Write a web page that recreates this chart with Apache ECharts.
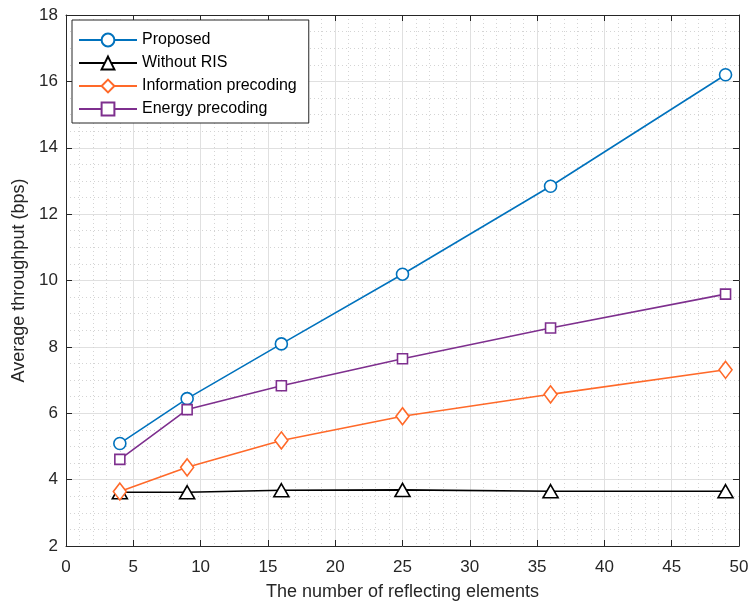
<!DOCTYPE html>
<html>
<head>
<meta charset="utf-8">
<script src="https://cdn.jsdelivr.net/npm/echarts@6/dist/echarts.min.js"></script>
<style>
  html, body { margin: 0; padding: 0; background: #fff; }
  #chart { width: 752px; height: 606px; }
</style>
</head>
<body>
<div id="chart"></div>
<script>
// number of reflecting elements
const elements = [4, 9, 16, 25, 36, 49];
// average throughput (bps)
const proposed = [5.09, 6.44, 8.09, 10.19, 12.84, 16.2];
const withoutRIS = [3.62, 3.62, 3.68, 3.69, 3.65, 3.65];
const infoPrecoding = [3.64, 4.37, 5.18, 5.91, 6.57, 7.31];
const energyPrecoding = [4.61, 6.11, 6.83, 7.64, 8.57, 9.59];

const seriesNames = ["Proposed", "Without RIS", "Information precoding", "Energy precoding"];
const axisColor = "#262626";
const fontFamily = "Liberation Sans, Arial, sans-serif";

function pairs(ys) {
  return elements.map((x, i) => [x, ys[i]]);
}

const chart = echarts.init(document.getElementById("chart"));

const baseX = {
  type: "value",
  min: 0,
  max: 50,
  interval: 5,
  axisLine: { show: true, onZero: false, lineStyle: { color: axisColor, width: 1 } },
  axisTick: { show: true, inside: true, length: 6, lineStyle: { color: axisColor } },
};
const baseY = {
  type: "value",
  min: 2,
  max: 18,
  interval: 2,
  axisLine: { show: true, onZero: false, lineStyle: { color: axisColor, width: 1 } },
  axisTick: { show: true, inside: true, length: 6, lineStyle: { color: axisColor } },
};

let option = {
  animation: false,
  backgroundColor: "#fff",
  grid: { left: 66, top: 15, right: 13, bottom: 57, containLabel: false },
  legend: {
    orient: "vertical",
    left: 72,
    top: 20,
    padding: [12, 12, 6, 6],
    itemGap: 7,
    itemWidth: 58,
    itemHeight: 16,
    backgroundColor: "#fff",
    borderColor: axisColor,
    borderWidth: 1,
    borderRadius: 0,
    textStyle: { fontFamily: fontFamily, fontSize: 16, color: "#000" },
    data: seriesNames,
  },
  xAxis: [
    Object.assign({}, baseX, {
      position: "bottom",
      name: "The number of reflecting elements",
      nameLocation: "middle",
      nameGap: 37,
      nameTextStyle: { fontFamily: fontFamily, fontSize: 18, color: axisColor },
      axisLabel: { fontFamily: fontFamily, fontSize: 17, color: axisColor, margin: 13 },
      splitLine: { show: true, lineStyle: { color: "#e0e0e0", width: 1 } },
      minorTick: { show: false, splitNumber: 5 },
      minorSplitLine: { show: true, lineStyle: { color: "#d4d4d4", width: 1, type: [1, 3] } },
    }),
    Object.assign({}, baseX, {
      position: "top",
      axisLabel: { show: false },
      splitLine: { show: false },
    }),
  ],
  yAxis: [
    Object.assign({}, baseY, {
      position: "left",
      name: "Average throughput (bps)",
      nameLocation: "middle",
      nameGap: 36,
      nameTextStyle: { fontFamily: fontFamily, fontSize: 18, color: axisColor },
      axisLabel: { fontFamily: fontFamily, fontSize: 17, color: axisColor, margin: 8 },
      splitLine: { show: true, lineStyle: { color: "#e0e0e0", width: 1 } },
      minorTick: { show: false, splitNumber: 4 },
      minorSplitLine: { show: true, lineStyle: { color: "#d4d4d4", width: 1, type: [1, 3] } },
    }),
    Object.assign({}, baseY, {
      position: "right",
      axisLabel: { show: false },
      splitLine: { show: false },
    }),
  ],
  series: [
    {
      name: "Proposed",
      type: "line",
      data: pairs(proposed),
      symbol: "circle",
      symbolSize: 12,
      lineStyle: { color: "#0072BD", width: 1.6 },
      itemStyle: { color: "#fff", borderColor: "#0072BD", borderWidth: 1.6 },
    },
    {
      name: "Without RIS",
      type: "line",
      data: pairs(withoutRIS),
      symbol: "triangle",
      symbolSize: [15, 13],
      lineStyle: { color: "#000", width: 1.6 },
      itemStyle: { color: "#fff", borderColor: "#000", borderWidth: 1.6 },
    },
    {
      name: "Information precoding",
      type: "line",
      data: pairs(infoPrecoding),
      symbol: "diamond",
      symbolSize: [13, 17],
      lineStyle: { color: "#FF6929", width: 1.6 },
      itemStyle: { color: "#fff", borderColor: "#FF6929", borderWidth: 1.6 },
    },
    {
      name: "Energy precoding",
      type: "line",
      data: pairs(energyPrecoding),
      symbol: "rect",
      symbolSize: 10,
      lineStyle: { color: "#7E2F8E", width: 1.6 },
      itemStyle: { color: "#fff", borderColor: "#7E2F8E", borderWidth: 1.6 },
    },
  ],
};

chart.setOption(option);
</script>
</body>
</html>
